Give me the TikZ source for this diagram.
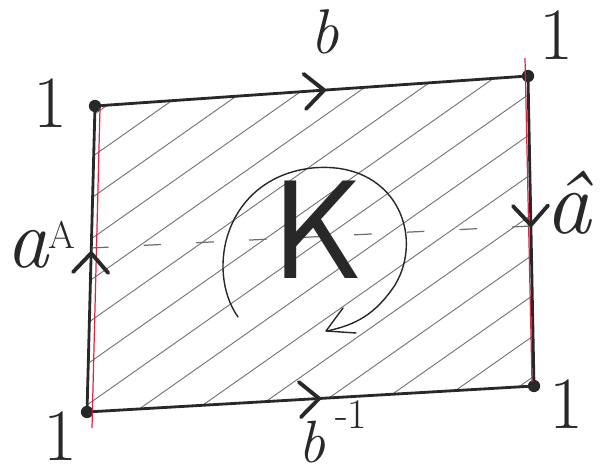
\documentclass[tikz,border=0pt]{standalone}
\usetikzlibrary{decorations.markings}
\definecolor{pen}{RGB}{40,40,40}
\definecolor{redpen}{RGB}{215,40,70}
\definecolor{hatchgray}{RGB}{110,110,110}
\begin{document}
\begin{tikzpicture}[x=0.02cm,y=-0.02cm,
  edge/.style={draw=pen,line width=1.6pt,line cap=round},
  dot/.style={circle,fill=pen,inner sep=0pt,minimum size=7pt},
  chev/.style={postaction={decorate,decoration={markings,
     mark=at position #1 with {\draw[pen,line width=2.2pt,line cap=round,line join=round] (-11pt,10pt) -- (0pt,0pt) -- (-11pt,-10pt);}}}},
  hatch/.style={draw=hatchgray,line width=0.5pt},
  lab/.style={text=pen,inner sep=0pt,anchor=base},
  one/.style={lab,font=\fontsize{42}{42}\selectfont},
  redline/.style={draw=redpen,line width=0.7pt}]
\useasboundingbox (0,0) rectangle (605,476);
% corners
\node[dot] (TL) at (95,106) {};
\node[dot] (TR) at (528,76) {};
\node[dot] (BL) at (87,412) {};
\node[dot] (BR) at (534,386) {};
% hatching
\begin{scope}
  \clip (95,106) -- (528,76) -- (534,386) -- (87,412) -- cycle;
  \foreach \i in {0,...,17} \draw[hatch] (\i*58-420,476) -- ++(640,-450);
\end{scope}
% red lines
\draw[redline] (100,108) -- (92,428);
\draw[redline] (525,58) -- (532,382);
% edge midpoints for dashed line
\coordinate (ML) at (91,248);
\coordinate (MR) at (531,226);
\draw[draw=hatchgray,line width=0.7pt,dash pattern=on 10pt off 20pt] (ML) -- (MR);
% edges
\draw[edge,chev=0.53] (TL) -- (TR);
\draw[edge,chev=0.52] (BL) -- (BR);
\draw[edge,chev=0.52] (BL) -- (TL);
\draw[edge,chev=0.48] (TR) -- (BR);
% K and rotation arrow
\node[text=pen,inner sep=0pt,font=\fontsize{80}{80}\selectfont\sffamily] (K) at (318,230) {K};
\draw[pen,line width=0.8pt,line cap=round] (238,317)
  .. controls (205,270) and (225,178) .. (312,168)
  .. controls (395,160) and (425,235) .. (395,285)
  .. controls (375,315) and (355,325) .. (327,331);
\draw[pen,line width=0.8pt,line cap=round,line join=round] (343,308) -- (326,331) -- (356,333);
% labels
\node[lab,font=\fontsize{36}{36}\selectfont\itshape] (lb) at (325,54) {b};
\node[lab,font=\fontsize{34}{34}\selectfont\itshape,anchor=base west] (lb1) at (298,462) {b\,\raisebox{19pt}{\fontsize{24}{24}\selectfont\upshape -1}};
\node[lab,font=\fontsize{48}{48}\selectfont\itshape,anchor=base west] (la) at (6,268) {a\raisebox{11pt}{\fontsize{22}{22}\selectfont\upshape A}};
\node[lab,font=\fontsize{52}{52}\selectfont\itshape] (lah) at (568,234) {â};
\node[one] (l1) at (50,128) {1};
\node[one] (l2) at (556,60) {1};
\node[one] (l3) at (60,460) {1};
\node[one] (l4) at (566,428) {1};
\end{tikzpicture}
\end{document}
